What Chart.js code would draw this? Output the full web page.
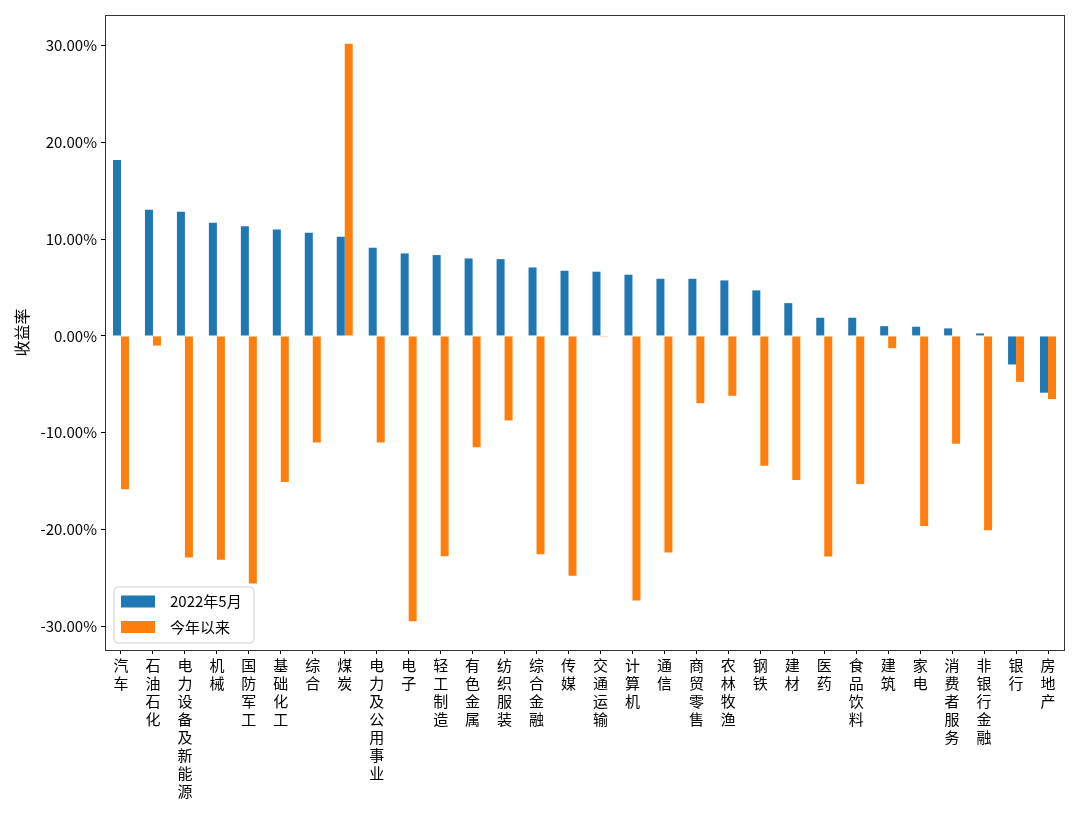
<!DOCTYPE html>
<html>
<head>
<meta charset="utf-8">
<script src="https://cdn.jsdelivr.net/npm/chart.js@4/dist/chart.umd.min.js"></script>
<style>
html,body{margin:0;padding:0;background:#fff;}
canvas{display:block;}
</style>
</head>
<body>
<canvas id="c" width="1080" height="819"></canvas>
<script>
const categories = ['汽车','石油石化','电力设备及新能源','机械','国防军工','基础化工','综合','煤炭','电力及公用事业','电子','轻工制造','有色金属','纺织服装','综合金融','传媒','交通运输','计算机','通信','商贸零售','农林牧渔','钢铁','建材','医药','食品饮料','建筑','家电','消费者服务','非银行金融','银行','房地产'];
const may2022 = [18.18,13.05,12.84,11.70,11.35,11.00,10.67,10.26,9.12,8.53,8.36,8.01,7.94,7.08,6.74,6.64,6.33,5.91,5.91,5.74,4.71,3.39,1.88,1.88,1.01,0.95,0.78,0.26,-2.95,-5.87];
const ytd = [-15.84,-1.00,-22.90,-23.14,-25.60,-15.10,-11.03,30.20,-11.03,-29.50,-22.77,-11.50,-8.74,-22.56,-24.80,-0.08,-27.35,-22.40,-6.95,-6.19,-13.43,-14.90,-22.80,-15.30,-1.26,-19.65,-11.15,-20.10,-4.74,-6.53];
const seriesNames = ['2022年5月','今年以来'];
const yTicks = [-30,-20,-10,0,10,20,30];

const FONT = '"Noto Sans CJK SC", "Noto Sans", sans-serif';
const BLUE = '#1f77b4', ORANGE = '#ff7f0e';

const framePlugin = {
  id: 'frame',
  afterDraw(chart) {
    const {ctx, chartArea: a} = chart;
    ctx.save();
    ctx.strokeStyle = '#333';
    ctx.lineWidth = 1;
    ctx.strokeRect(Math.round(a.left) + 0.5, Math.round(a.top) + 0.5, Math.round(a.right - a.left), Math.round(a.bottom - a.top));
    // legend
    const x0 = a.left + 9, y0 = a.bottom - 63, w = 140, h = 56, r = 4;
    ctx.beginPath();
    ctx.moveTo(x0 + r, y0);
    ctx.lineTo(x0 + w - r, y0); ctx.quadraticCurveTo(x0 + w, y0, x0 + w, y0 + r);
    ctx.lineTo(x0 + w, y0 + h - r); ctx.quadraticCurveTo(x0 + w, y0 + h, x0 + w - r, y0 + h);
    ctx.lineTo(x0 + r, y0 + h); ctx.quadraticCurveTo(x0, y0 + h, x0, y0 + h - r);
    ctx.lineTo(x0, y0 + r); ctx.quadraticCurveTo(x0, y0, x0 + r, y0);
    ctx.closePath();
    ctx.fillStyle = 'rgba(255,255,255,0.8)';
    ctx.fill();
    ctx.strokeStyle = '#d0d0d0';
    ctx.stroke();
    const colors = [BLUE, ORANGE];
    ctx.font = '15px ' + FONT;
    ctx.textBaseline = 'middle';
    ctx.fillStyle = '#000';
    for (let i = 0; i < seriesNames.length; i++) {
      const cy = y0 + 14.5 + i * 25.5;
      ctx.fillStyle = colors[i];
      ctx.fillRect(x0 + 7, cy - 6, 34, 12);
      ctx.fillStyle = '#000';
      ctx.fillText(seriesNames[i], x0 + 56, cy);
    }
    ctx.restore();
  }
};

new Chart(document.getElementById('c'), {
  type: 'bar',
  data: {
    labels: categories,
    datasets: [
      {label: seriesNames[0], data: may2022, backgroundColor: BLUE, borderWidth: 0, barPercentage: 1.0, categoryPercentage: 0.5},
      {label: seriesNames[1], data: ytd, backgroundColor: ORANGE, borderWidth: 0, barPercentage: 1.0, categoryPercentage: 0.5}
    ]
  },
  options: {
    responsive: false,
    devicePixelRatio: 1,
    animation: false,
    layout: {padding: {top: 15, right: 16, left: 0, bottom: 0}},
    plugins: {legend: {display: false}, tooltip: {enabled: false}},
    scales: {
      x: {
        grid: {display: true, drawOnChartArea: false, drawTicks: true, tickLength: 4, color: '#000', offset: false},
        border: {display: true, color: '#333'},
        ticks: {
          autoSkip: false, maxRotation: 0, minRotation: 0, padding: 2, color: '#000',
          font: {family: FONT, size: 15, lineHeight: 1.2},
          callback: (v, i) => categories[i].split('')
        },
        afterFit: s => { s.height = 169; }
      },
      y: {
        min: -32.47, max: 33.18,
        afterBuildTicks: s => { s.ticks = yTicks.map(v => ({value: v})); },
        grid: {display: true, drawOnChartArea: false, drawTicks: true, tickLength: 4, color: '#000'},
        border: {display: true, color: '#333'},
        ticks: {color: '#000', padding: 4, font: {family: FONT, size: 15}, callback: v => v.toFixed(2) + '%'},
        title: {display: true, text: '收益率', color: '#000', font: {family: FONT, size: 16}, padding: {top: 12, bottom: 0}},
        afterFit: s => { s.width = 105; }
      }
    }
  },
  plugins: [framePlugin]
});
</script>
</body>
</html>
